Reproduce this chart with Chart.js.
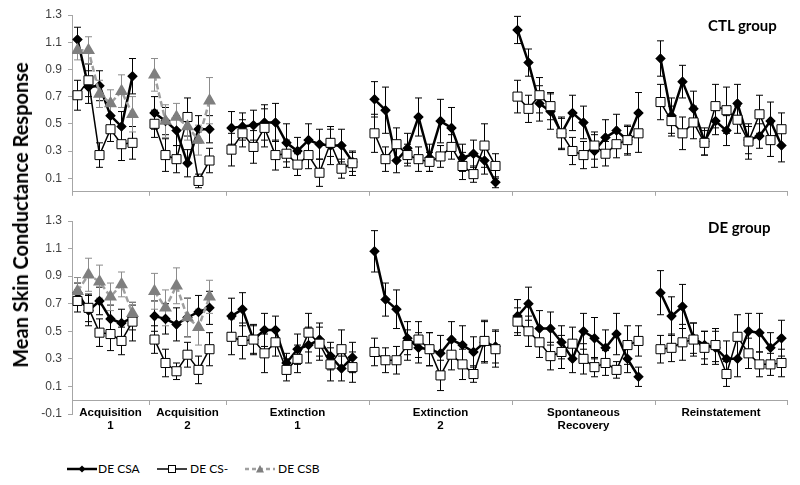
<!DOCTYPE html>
<html>
<head>
<meta charset="utf-8">
<script src="https://cdn.jsdelivr.net/npm/chart.js"></script>
<style>
  body { margin: 0; background: #fff; }
  #wrap { position: relative; width: 800px; height: 485px; overflow: hidden; }
  canvas { position: absolute; left: 0; }
  #topChart { top: 0; }
  #botChart { top: 205px; }
  .grp { position: absolute; font: bold 15px Lato, sans-serif; color: #000; white-space: nowrap; }
  #ytitle { position: absolute; left: 20px; top: 215px; transform: translate(-50%, -50%) rotate(-90deg);
            white-space: nowrap; font: bold 20px Lato, sans-serif; color: #000; }
  .lg { position: absolute; top: 463px; }
  .lgt { position: absolute; top: 461px; font: 12px Lato, sans-serif; line-height: 16px; color: #000; }
</style>
</head>
<body>
<div id="wrap">
  <canvas id="topChart" width="800" height="205"></canvas>
  <canvas id="botChart" width="800" height="240"></canvas>
  <div class="grp" style="left:708px; top:16px;">CTL group</div>
  <div class="grp" style="left:708px; top:218px;">DE group</div>
  <div id="ytitle">Mean Skin Conductance Response</div>

  <svg class="lg" style="left:67px" width="30" height="12"><line x1="0" y1="6" x2="30" y2="6" stroke="#000" stroke-width="2.5"/><polygon points="15,2.5 18.5,6 15,9.5 11.5,6" fill="#000"/></svg>
  <div class="lgt" style="left:98px">DE CSA</div>
  <svg class="lg" style="left:157px" width="30" height="12"><line x1="0" y1="6" x2="30" y2="6" stroke="#000" stroke-width="1.5"/><rect x="11.5" y="2.5" width="7" height="7" fill="#fff" stroke="#000"/></svg>
  <div class="lgt" style="left:190px">DE CS-</div>
  <svg class="lg" style="left:245px" width="30" height="12"><line x1="0" y1="6" x2="30" y2="6" stroke="#a0a0a0" stroke-width="2.5" stroke-dasharray="4,3"/><polygon points="15,2 19,9.5 11,9.5" fill="#7f7f7f"/></svg>
  <div class="lgt" style="left:278px">DE CSB</div>
</div>
<script>
// sessions: number of trials in each block
const segSizes = [6, 6, 12, 12, 12, 12];
const catLabels = [['Acquisition', '1'], ['Acquisition', '2'], ['Extinction', '1'], ['Extinction', '2'], ['Spontaneous', 'Recovery'], ['Reinstatement']];
const topYTicks = [0.1, 0.3, 0.5, 0.7, 0.9, 1.1, 1.3];
const botYTicks = [-0.1, 0.1, 0.3, 0.5, 0.7, 0.9, 1.1, 1.3];

// CTL group
const ctlCsa = [1.12, 0.77, 0.78, 0.56, 0.48, 0.85,
  0.58, 0.52, 0.45, 0.21, 0.46, 0.46,
  0.47, 0.48, 0.49, 0.51, 0.51, 0.36, 0.30, 0.38, 0.35, 0.34, 0.34, 0.22,
  0.68, 0.60, 0.23, 0.32, 0.55, 0.25, 0.52, 0.47, 0.25, 0.28, 0.23, 0.07,
  1.19, 0.95, 0.65, 0.59, 0.43, 0.58, 0.51, 0.30, 0.40, 0.45, 0.38, 0.58,
  0.98, 0.56, 0.81, 0.61, 0.37, 0.52, 0.45, 0.65, 0.38, 0.41, 0.52, 0.34];
const ctlCsaErr = [0.09, 0.12, 0.11, 0.10, 0.11, 0.13,
  0.12, 0.10, 0.11, 0.10, 0.10, 0.10,
  0.12, 0.10, 0.11, 0.13, 0.14, 0.14, 0.10, 0.12, 0.11, 0.14, 0.12, 0.07,
  0.13, 0.17, 0.09, 0.11, 0.14, 0.10, 0.16, 0.15, 0.10, 0.10, 0.10, 0.04,
  0.10, 0.10, 0.13, 0.13, 0.11, 0.13, 0.12, 0.12, 0.13, 0.12, 0.10, 0.15,
  0.13, 0.13, 0.12, 0.13, 0.10, 0.10, 0.11, 0.14, 0.10, 0.09, 0.14, 0.12];
const ctlCsm = [0.71, 0.82, 0.27, 0.46, 0.35, 0.36,
  0.50, 0.27, 0.24, 0.55, 0.08, 0.23,
  0.31, 0.43, 0.33, 0.47, 0.27, 0.28, 0.20, 0.27, 0.14, 0.36, 0.17, 0.21,
  0.43, 0.24, 0.35, 0.27, 0.24, 0.22, 0.26, 0.33, 0.19, 0.13, 0.34, 0.19,
  0.70, 0.61, 0.71, 0.63, 0.43, 0.30, 0.27, 0.34, 0.28, 0.35, 0.38, 0.43,
  0.66, 0.52, 0.43, 0.51, 0.36, 0.63, 0.60, 0.53, 0.37, 0.57, 0.38, 0.46];
const ctlCsmErr = [0.11, 0.12, 0.09, 0.09, 0.12, 0.12,
  0.10, 0.12, 0.10, 0.14, 0.05, 0.09,
  0.12, 0.10, 0.12, 0.14, 0.11, 0.10, 0.08, 0.10, 0.10, 0.10, 0.07, 0.09,
  0.14, 0.09, 0.12, 0.08, 0.09, 0.07, 0.08, 0.09, 0.10, 0.06, 0.16, 0.09,
  0.12, 0.10, 0.13, 0.10, 0.12, 0.10, 0.10, 0.10, 0.09, 0.10, 0.11, 0.14,
  0.13, 0.11, 0.12, 0.12, 0.09, 0.16, 0.17, 0.10, 0.13, 0.14, 0.12, 0.12];
const ctlCsb = [1.04, 1.04, 0.72, 0.65, 0.74, 0.57,
  0.86, 0.52, 0.55, 0.48, 0.38, 0.67];
const ctlCsbErr = [0.07, 0.10, 0.10, 0.10, 0.12, 0.13,
  0.12, 0.12, 0.10, 0.10, 0.11, 0.17];

// DE group
const deCsa = [0.78, 0.65, 0.72, 0.59, 0.56, 0.60,
  0.61, 0.59, 0.55, 0.60, 0.64, 0.67,
  0.61, 0.66, 0.44, 0.51, 0.51, 0.27, 0.37, 0.40, 0.44, 0.32, 0.23, 0.31,
  1.08, 0.73, 0.66, 0.45, 0.38, 0.37, 0.34, 0.44, 0.40, 0.35, 0.42, 0.39,
  0.61, 0.70, 0.52, 0.52, 0.42, 0.30, 0.50, 0.45, 0.38, 0.48, 0.30, 0.17,
  0.78, 0.61, 0.68, 0.45, 0.40, 0.38, 0.30, 0.30, 0.50, 0.49, 0.38, 0.45];
const deCsaErr = [0.07, 0.11, 0.10, 0.10, 0.10, 0.09,
  0.11, 0.11, 0.12, 0.14, 0.12, 0.12,
  0.13, 0.12, 0.10, 0.12, 0.10, 0.07, 0.11, 0.13, 0.12, 0.10, 0.09, 0.11,
  0.15, 0.12, 0.14, 0.12, 0.11, 0.12, 0.13, 0.13, 0.14, 0.11, 0.15, 0.12,
  0.12, 0.12, 0.13, 0.12, 0.12, 0.10, 0.13, 0.15, 0.13, 0.15, 0.10, 0.07,
  0.16, 0.14, 0.16, 0.11, 0.10, 0.12, 0.13, 0.13, 0.13, 0.14, 0.11, 0.13];
const deCsm = [0.72, 0.67, 0.49, 0.48, 0.43, 0.57,
  0.44, 0.27, 0.21, 0.33, 0.22, 0.37,
  0.46, 0.43, 0.44, 0.34, 0.42, 0.22, 0.30, 0.49, 0.41, 0.26, 0.37, 0.24,
  0.35, 0.29, 0.29, 0.40, 0.44, 0.37, 0.18, 0.33, 0.26, 0.19, 0.43, 0.37,
  0.57, 0.50, 0.42, 0.32, 0.35, 0.41, 0.30, 0.24, 0.27, 0.22, 0.40, 0.43,
  0.37, 0.38, 0.42, 0.44, 0.38, 0.40, 0.19, 0.46, 0.34, 0.26, 0.26, 0.27];
const deCsmErr = [0.08, 0.10, 0.10, 0.12, 0.10, 0.14,
  0.10, 0.10, 0.06, 0.09, 0.10, 0.12,
  0.13, 0.13, 0.11, 0.14, 0.10, 0.08, 0.10, 0.14, 0.12, 0.12, 0.14, 0.11,
  0.10, 0.09, 0.10, 0.11, 0.13, 0.12, 0.11, 0.11, 0.11, 0.06, 0.15, 0.13,
  0.10, 0.11, 0.11, 0.10, 0.12, 0.12, 0.11, 0.07, 0.09, 0.06, 0.14, 0.11,
  0.10, 0.10, 0.13, 0.12, 0.12, 0.12, 0.09, 0.16, 0.11, 0.09, 0.08, 0.10];
const deCsb = [0.79, 0.91, 0.86, 0.75, 0.84, 0.63,
  0.79, 0.67, 0.83, 0.60, 0.53, 0.75];
const deCsbErr = [0.10, 0.12, 0.12, 0.10, 0.09, 0.08,
  0.13, 0.13, 0.13, 0.14, 0.13, 0.12];

// slot layout: every block is followed by one empty slot
const segStart = [];
let acc = 0;
segSizes.forEach(n => { segStart.push(acc); acc += n + 1; });
const nSlots = acc - 1;
const boundaries = segStart.concat([nSlots]);
const centers = segStart.map((s, i) => (s + boundaries[i + 1]) / 2);

function buildPoints(values, errs) {
  const pts = [];
  let idx = 0;
  for (let s = 0; s < segSizes.length && idx < values.length; s++) {
    for (let k = 0; k < segSizes[s]; k++) {
      pts.push({ x: segStart[s] + k + 0.5, y: values[idx], err: errs[idx] });
      idx++;
    }
    pts.push({ x: segStart[s] + segSizes[s] + 0.5, y: null, err: 0 });
  }
  return pts;
}

function makeSets(csa, csaErr, csm, csmErr, csb, csbErr) {
  return [
    {
      label: 'DE CSA', data: buildPoints(csa, csaErr), order: 3,
      borderColor: '#000', borderWidth: 2.5, errColor: '#000',
      pointStyle: 'rectRot', pointRadius: 3.5, pointBackgroundColor: '#000', pointBorderColor: '#000'
    },
    {
      label: 'DE CS-', data: buildPoints(csm, csmErr), order: 2,
      borderColor: '#000', borderWidth: 1.5, errColor: '#000',
      pointStyle: 'rect', pointRadius: 6.4, pointBackgroundColor: '#fff', pointBorderColor: '#000', pointBorderWidth: 1
    },
    {
      label: 'DE CSB', data: buildPoints(csb, csbErr), order: 1,
      borderColor: '#a0a0a0', borderWidth: 2.5, borderDash: [6, 3], errColor: '#8c8c8c',
      pointStyle: 'triangle', pointRadius: 5, pointBackgroundColor: '#7f7f7f', pointBorderColor: '#7f7f7f'
    }
  ];
}

// error bars drawn under the lines
const errorBars = {
  id: 'errorBars',
  beforeDatasetsDraw(chart) {
    const ctx = chart.ctx;
    const yScale = chart.scales.y;
    chart.data.datasets.forEach((ds, i) => {
      const meta = chart.getDatasetMeta(i);
      ctx.save();
      ctx.strokeStyle = ds.errColor;
      ctx.lineWidth = 1;
      meta.data.forEach((pt, j) => {
        const d = ds.data[j];
        if (d.y == null) return;
        const top = yScale.getPixelForValue(d.y + d.err);
        const bot = yScale.getPixelForValue(d.y - d.err);
        ctx.beginPath();
        ctx.moveTo(pt.x, top); ctx.lineTo(pt.x, bot);
        ctx.moveTo(pt.x - 3.5, top); ctx.lineTo(pt.x + 3.5, top);
        ctx.moveTo(pt.x - 3.5, bot); ctx.lineTo(pt.x + 3.5, bot);
        ctx.stroke();
      });
      ctx.restore();
    });
  }
};

const axisGrey = '#a6a6a6';
const tickFont = { family: 'Liberation Sans', size: 12 };

function yAxis(min, max, ticks) {
  return {
    min: min, max: max,
    afterBuildTicks: s => { s.ticks = ticks.map(v => ({ value: v })); },
    afterFit: s => { s.width = 72; },
    ticks: { callback: v => v.toFixed(1), font: tickFont, color: '#404040', padding: 6 },
    grid: { drawOnChartArea: false, tickLength: 4, color: axisGrey },
    border: { color: axisGrey }
  };
}

function baseOptions() {
  return {
    responsive: false,
    animation: false,
    spanGaps: false,
    elements: { line: { tension: 0 } },
    plugins: { legend: { display: false }, tooltip: { enabled: false } }
  };
}

// CTL panel
const topOpts = baseOptions();
topOpts.layout = { padding: { top: 15, right: 13, left: 0, bottom: 0 } };
topOpts.scales = {
  x: {
    type: 'linear', min: 0, max: nSlots,
    afterBuildTicks: s => { s.ticks = boundaries.map(v => ({ value: v })); },
    afterFit: s => { s.height = 5; },
    ticks: { display: false },
    grid: { drawOnChartArea: false, tickLength: 4, color: axisGrey },
    border: { color: axisGrey }
  },
  y: yAxis(0, 1.3, topYTicks)
};
new Chart(document.getElementById('topChart'), {
  type: 'line',
  data: { datasets: makeSets(ctlCsa, ctlCsaErr, ctlCsm, ctlCsmErr, ctlCsb, ctlCsbErr) },
  options: topOpts,
  plugins: [errorBars]
});

// DE panel: x axis crosses the y axis at 0, the y axis runs down to -0.1
const botOpts = baseOptions();
botOpts.layout = { padding: { top: 16, right: 13, left: 0, bottom: 31 } };
botOpts.scales = {
  x: {
    type: 'linear', min: 0, max: nSlots, position: { y: 0 },
    afterBuildTicks: s => { s.ticks = boundaries.concat(centers).sort((a, b) => a - b).map(v => ({ value: v })); },
    ticks: {
      autoSkip: false, maxRotation: 0, padding: 2, color: '#000',
      font: { family: 'Liberation Sans', weight: 'bold', size: 11.5, lineHeight: 1.15 },
      callback: v => { const i = centers.indexOf(v); return i >= 0 ? catLabels[i] : ''; }
    },
    grid: {
      drawOnChartArea: false, tickLength: 4,
      tickColor: c => boundaries.includes(c.tick.value) ? axisGrey : 'rgba(0,0,0,0)'
    },
    border: { color: axisGrey }
  },
  y: yAxis(-0.1, 1.3, botYTicks)
};
new Chart(document.getElementById('botChart'), {
  type: 'line',
  data: { datasets: makeSets(deCsa, deCsaErr, deCsm, deCsmErr, deCsb, deCsbErr) },
  options: botOpts,
  plugins: [errorBars]
});
</script>
</body>
</html>
